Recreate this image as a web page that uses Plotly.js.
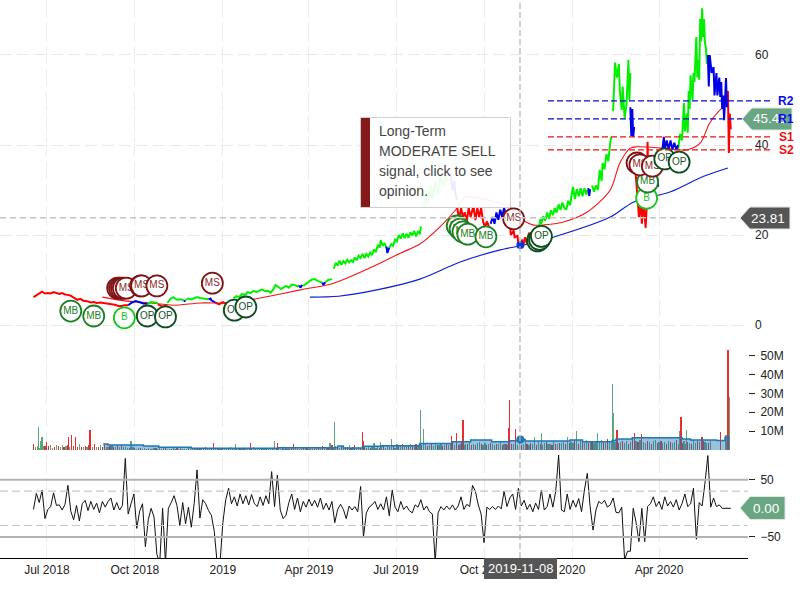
<!DOCTYPE html>
<html><head><meta charset="utf-8">
<script src="https://cdn.plot.ly/plotly-3.0.1.min.js"></script>
<style>html,body{margin:0;padding:0;background:#fff}#c{width:800px;height:600px}</style></head>
<body><div id="c"></div>
<script>
// All "days" are calendar days counted from the first bar of the chart.
const startDate = '2018-06-17';
const priceTicks = [0,20,40,60];
const volTicks = [10e6,20e6,30e6,40e6,50e6];
const volTickText = ['10M','20M','30M','40M','50M'];
const oscTicks = [-50,50];
const dateTicks = ['2018-07-01','2018-10-01','2019-01-01','2019-04-01','2019-07-01','2019-10-01','2020-01-01','2020-04-01'];
const dateTickText = ['Jul 2018','Oct 2018','2019','Apr 2019','Jul 2019','Oct 2019','2020','Apr 2020'];

const redDays = [0,3,6,9,12,15,18,21,24,27,30,33,36,39,42,46,49,52,56,60,63,66,70,74,77,81,85,88,91,95,99,null,
 130,135,140,null,190,194,198,202,205,208,null,
 443,445,447,449,451,453,455,457,460,462,464,466,468,470,472,474,476,null,
 498,499,502,503,506,507,509,511,512,514,516,518,520,523,526,null,
 628,631,633,635,636,638,640,641,642,643,645,648,650,null,726,727,728,729];
const redVals = [6.2,6.6,7.0,7.4,7.0,7.1,7.0,7.3,7.1,6.9,7.1,6.8,6.7,6.5,6.1,5.6,5.8,5.4,5.3,5.0,5.1,4.9,5.0,4.9,4.8,4.6,4.5,4.3,4.2,4.4,4.4,null,
 4.6,4.1,4.4,null,5.0,4.6,5.1,4.7,4.9,5.2,null,
 26,23.5,26,24,25,23,26,24,26.5,23.3,26,24,26,23,21.8,23,22,null,
 23,20,21,19.5,19.8,18,17.8,19,17.6,19.5,18,20.5,18.5,21,20,null,
 38,30,24,27,22.5,27,21.6,26,40.7,30,34,27,33,null,52,38.2,47,43.5];

const greenDays = [119,123,127,130,null,140,143,146,150,154,157,null,159,162,165,168,171,174,177,180,183,null,
 209,212,215,218,221,224,227,230,233,236,239,242,245,248,251,253,256,259,261,264,267,270,273,276,278,null,
 282,285,288,291,294,297,300,302,null,305,308,312,null,
 314,316,318,320,322,324,326,328,330,332,334,336,338,340,342,344,346,348,350,352,354,356,358,360,362,363,365,367,369,null,
 372,374,376,378,380,382,384,386,388,390,392,394,396,398,400,402,404,405,null,
 408,410,412,415,417,420,423,425,428,431,434,null,
 528,530,531,533,535,537,539,541,543,545,547,549,551,553,555,557,559,561,563,564,566,568,570,572,574,576,578,579,null,
 584,586,588,590,592,594,595,597,599,601,603,604,null,
 606,608,610,612,613,615,616,618,620,621,622,623,624,null,
 674,676,678,680,681,683,684,685,686,687,689,690,691,692,693,694,695,696,697,698,699,700,701,702,703,704];
const greenVals = [4.7,5.1,5.0,4.9,null,4.9,5.8,6.2,5.6,5.7,5.5,null,5.6,5.9,5.7,6.0,6.2,6.0,5.9,5.8,5.7,null,
 5.9,6.4,6.2,6.9,6.7,7.3,7.1,7.6,7.3,7.6,7.9,7.5,7.6,7.2,8.0,8.9,8.4,8.0,8.3,8.7,8.3,9.0,8.9,8.6,8.8,null,
 8.7,9.2,9.7,10.1,10.2,9.8,9.6,9.4,null,9.5,10.0,10.2,null,
 12.5,13.8,13.2,14.3,13.4,14.2,13.7,14.5,13.9,14.4,14.0,15.0,14.4,15.4,14.9,15.8,14.9,15.8,15.2,16.1,15.5,16.8,16.2,17.8,17.2,18.9,17.6,18.2,17.2,null,
 17.2,18.0,17.6,19.0,18.6,20.0,19.2,20.4,19.3,20.3,19.4,20.6,19.9,20.9,19.7,20.9,20.2,21.9,null,
 26,30,27,31,28,32,29,33,31,33,32,null,
 21,23.5,22.5,24.2,23.2,25,23.6,25.5,24.4,26,25,26.8,25.6,27.2,26,25.6,27.6,26.6,29.5,30.7,28,30.2,28.6,30.4,28.6,30.4,29,30,null,
 31,29.6,31,30,34.4,32,36,34.6,38,36.4,40.5,41.8,null,
 47.5,58.3,55,58,52,47.8,53,46,49,54,58.9,50,56,null,
 39,42.5,41,49.3,43,47,42.7,52,48,55.5,50,56,54,60,64,55,59,54.5,68,63,70.4,64,68,62.7,61.6,58];

const blueDays = [99,103,107,111,115,119,null,157,159,null,183,185,186,190,null,278,279,281,null,302,303,305,null,369,370,371,372,null,
 436,438,440,441,443,null,478,480,482,484,486,488,490,492,494,496,null,580,581,582,null,624,625,626,627,628,null,652,653,null,
 657,659,660,662,664,666,668,670,672,674,null,705,706,707,709,711,712,714,715,717,718,719,720,721,722,723,724,725];
const blueVals = [4.4,5.0,5.3,5.0,4.8,4.7,null,5.4,5.3,null,5.7,5.9,5.5,5.0,null,8.8,8.3,8.9,null,9.4,8.9,9.5,null,17.4,16,16.7,17.2,null,
 33.8,30,32,29,27.8,null,22.5,24,22.5,25,23.4,25.6,24,26,24.5,25,null,30.4,28.7,30.2,null,48.4,42,48,41.8,44,null,33,30.7,null,
 38,41.8,39,41,39,41,39,40.5,39,40,null,60,53,60,56,57.3,51,56,51,55,50.7,54,48,51,45.5,50,54.9,48.4];

const maFastDays = [72,98,122,146,175,208,237,279,314,352,384,404,425,443,451,478,498,514,523,554,579,603,613,624,631,658,683,697,707,720,726];
const maFastVals = [6.2,5.3,4.9,4.4,4.9,4.9,6.0,7.8,9.3,12.7,16,18,21.8,26,28.4,27.6,26.2,23,22.2,22.9,25.1,30,36,39.3,39.6,39.3,38.9,40.4,44.9,48.2,48.9];
const maSlowDays = [289,319,359,404,446,488,509,540,603,627,666,700,726];
const maSlowVals = [6.2,6.4,7.8,10.2,14,16.7,17.6,19.3,24,27.3,29.6,33,34.9];

const pivotLevels = [49.8,45.8,41.8,38.9];
const pivotNames = ['R2','R1','S1','S2'];
const lastClose = 45.41;
const cursorClose = 23.81;
const cursorDay = 509;
const cursorPrice = 17.8;
const cursorVolAvg = 5.6e6;

const signalDays = [39,63,95,119,138,210,222,88,90,92,94,97,112,113,129,187,443,446,449,454,473,502,527,529,531,641,642,631,634,647,660,675];
const signalVals = [3.1,2.0,1.6,2.0,1.8,3.3,4.0,8.2,8.2,8.2,8.2,8.2,8.7,8.7,8.7,9.3,22,21.3,20.7,20.2,19.6,23.6,18.7,19,19.7,28.2,31.8,36,35.6,35.3,36.9,36.2];
const signalText = ['MB','MB','B','OP','OP','OP','OP','MS','MS','MS','MS','MS','MS','MS','MS','MS','MB','MB','MB','MB','MB','MS','OP','OP','OP','B','MB','MS','MS','MS','OP','OP'];

// volume in millions, read every second day; negative means a down (red) day
const volBase = [
 -3,1.4,2,1.2,-2.6,2,-2,1.2,-2,2.6,1.2,-1.4,2.6,-2,1.4,2.4,-1.4,2,-2.6,1.4,
 2,-2,1.4,-1.6,3,-1.4,1.6,-2,1.4,-2.6,2,1.4,-3,1.4,-1.6,2.6,-1.4,-2.6,1.6,1.4,
 -2,2.6,-1.8,1.4,-2.4,1.6,-2.6,1.4,1.5,0.8,-1.2,0.7,1.5,-1,0.6,0.9,-1.2,0.5,0.8,-0.6,
 1.1,-0.7,0.6,0.9,-1,0.5,1.2,-0.6,0.8,-1.4,0.5,0.7,-0.6,1,0.5,-0.8,0.6,1.3,-0.5,0.7,
 0.5,-1,0.6,0.8,-0.6,0.5,1,-0.7,0.5,1.2,-1.5,0.6,0.8,-0.5,0.7,1,-0.6,0.5,0.9,-1.2,
 0.6,0.7,-0.5,1.4,-0.8,0.5,0.7,1.1,-0.6,0.8,-1.3,0.5,0.9,-0.7,0.6,1.5,-0.5,0.8,0.6,-1,
 0.7,1.2,-0.6,0.5,1.1,-0.8,0.7,-0.5,1.3,0.6,-0.9,0.7,1,-0.6,0.8,-1.2,0.6,1.5,-0.7,0.5,
 1,-0.8,0.9,-1.4,0.7,1.1,-0.6,0.8,1.6,-1,1.4,-2.2,1.2,1.8,-1,1.5,-2.5,1.2,1.9,-1.1,
 1.3,-2,1.1,1.7,-1.4,2.4,-1.2,1.4,-2.8,1.3,1.6,-1.2,2,-1.5,1.1,2.2,-1.3,1.6,-2.4,1.2,
 1.8,-1.2,1.4,-2.6,1.1,2,-1.4,1.7,-2.2,1.3,3.4,-2.2,2.5,-3.4,2,2.8,-2.3,3.1,-2.1,2.6,
 -3.3,2.2,3,-2.4,2.7,3.2,-2.2,2.4,-3.6,2.1,3,-2.6,2.4,3.8,-2.3,2.9,-3.4,2.4,3.3,-4,
 2.5,3.6,-2.7,3,-4.6,2.8,3.4,-3,4,-2.6,3.2,-2.8,3.6,4.2,-3,2.8,3.5,-2.6,3,-3.8,
 3.2,2.5,-3.4,3,4,-2.8,3.3,-3.1,2.7,4.4,-3,3.2,-4.2,2.9,3.5,-2.6,3.1,4.2,-3.3,2.8,
 -3.6,3,3.4,-2.7,4.4,-3.2,2.9,3.6,-4.4,3,3.2,-2.8,4.6,-3.4,3.1,-3.8,3.5,4.2,-3,5,
 -3.8,4.4,3.6,-5.2,4,-3.4,4.8,-4.2,3.7,5.4,-3.6,4.2,-5,3.8,4.6,-3.4,4.2,5.2,-4.4,3.6,
 -5.6,4.4,3.8,-4.6,4.1,5.6,-3.6,4.3,-5,3.9,4.8,-3.4,4.4,-5.6,3.8,4.6,-4,5.2,-3.6,4.4,
 3.8,-5,4.2,-3.4,4.6,5.2,-3.8,4.2,-4.8,3.6,4.4,-3.2,5,-4.2,3.7,4.4,-5.4,3.4,4.2,-3.6,
 4.8,3.4,-4.4,3.9,-3.2,5.2,3.6,-4.6,4,3.3,-5,4.4,3.5,-3.8,4.6
];
const volSpikeDays = [5,7,9,14,37,40,44,59,102,188,211,227,252,255,272,310,315,344,345,356,363,374,405,408,437,442,449,497,498,504,524,531,558,568,590,605,606,610,628,636,675,677,683,699,718,724,726,728];
const volSpikeVals = [12,5,7,4,7,8,7,10.5,5,3.5,3,3.5,5,3.5,3,3.5,15,9.5,4.5,3.5,4,6,21,11,7.5,9,16,11.5,26.5,11,7,9,7,10,9,35,19.5,10.5,9,8.5,10,17.5,10.5,7,9.5,8,53,28];
const volSpikeSide = 'ggg'+'rrrrr'+'g'+'r'+'g'+'r'+'g'+'r'+'r'+'g'+'g'+'rr'+'ggg'+'gg'+'rrr'+'rrr'+'gg'+'ggg'+'gg'+'r'+'rr'+'g'+'r'+'g'+'rr'+'g'+'r'+'g';

const volAvgDays = [73,78,115,131,165,256,318,324,344,364,403,404,438,457,479,498,506,514,561,574,605,609,626,678,687,714,723,728];
const volAvgVals = [3.2,2.6,2.1,1.5,0.9,1.2,2.1,1,2,2.2,2.5,3.5,4.4,5.3,4.4,4.9,5.6,4.8,5.3,4.4,5,5.8,6.5,5.8,5.3,5,6.7,6.7];

// oscillator, read every third day
const oscVals = [
 -2,26,10,32,-18,-2,3,27,5,6,
 -3,7,40,-5,-20,5,-22,8,14,-4,
 12,-2,9,-8,12,2,12,18,-3,10,
 -3,5,87,-10,8,25,-35,-5,8,-67,
 -20,0,-15,-80,-95,0,-95,0,10,22,
 5,-30,10,-27,2,-33,8,67,-17,15,
 8,-4,-12,-40,-95,-95,-25,15,35,8,
 20,4,25,8,22,6,24,8,3,20,
 5,22,8,64,3,58,-3,-18,-12,10,
 25,-2,18,-6,12,2,16,4,14,2,
 18,-2,9,-3,12,-25,-2,7,-2,-18,
 4,-3,3,-6,38,-50,-8,2,6,12,
 -2,8,-3,20,-13,32,2,-6,12,-2,
 4,-4,-8,6,2,15,-3,4,-6,-10,
 -95,-8,3,-3,4,-2,6,-3,4,20,
 -2,7,3,40,30,6,-10,-60,2,-2,
 3,-2,4,-1,30,3,18,25,-2,35,
 4,14,-2,7,-6,9,-2,32,-3,3,
 25,2,30,93,-3,-6,25,-2,14,2,
 17,-6,32,61,2,-38,-3,12,8,14,
 2,6,18,-7,-8,2,-90,-75,-75,0,
 -25,-58,0,-58,3,8,20,3,12,-2,
 20,4,12,2,15,-3,8,25,3,8,
 35,-54,10,4,44,92,2,18,3,6,
 0,0,0,0];

const FONT = '"Liberation Sans", Arial, sans-serif';
const W = 800, H = 600, plotR = 748, plotB = 558;
const t0 = Date.parse(startDate + 'T00:00:00Z');
const D = d => d === null ? null : new Date(t0 + d * 864e5).toISOString().slice(0, 10);
const px = x => x / plotR;                 // paper x from window pixels (for furniture only)
const py = y => (plotB - y) / plotB;       // paper y from window pixels

const traces = [];
const line = (days, vals, color, width, shape) => traces.push({type:'scatter',mode:'lines',x:days.map(D),y:vals,yaxis:'y',
  connectgaps:false,line:{color,width,shape:shape||'linear',smoothing:0.8},hoverinfo:'skip',showlegend:false});

line(maSlowDays, maSlowVals, '#0a1fd0', 1.1, 'spline');
line(maFastDays, maFastVals, '#f01414', 1.1, 'spline');
line(redDays, redVals, '#ff0000', 2);
line(greenDays, greenVals, '#00f000', 2);
line(blueDays, blueVals, '#0000e6', 2);

traces.push({type:'scatter',mode:'markers',x:[D(cursorDay)],y:[cursorPrice],yaxis:'y',marker:{size:8,color:'#1430d8'},hoverinfo:'skip',showlegend:false});

const sigStyle = {
 MB:{line:'#1c7f24',text:'#1c7f24'}, B:{line:'#19c61f',text:'#19c61f'},
 OP:{line:'#0d4d1f',text:'#14532a'}, MS:{line:'#7f1416',text:'#8a2a2c'}
};
signalDays.forEach((d,i)=>{
  const s = sigStyle[signalText[i]];
  traces.push({type:'scatter',mode:'markers+text',x:[D(d)],y:[signalVals[i]],yaxis:'y',text:[signalText[i]],textposition:'middle center',
    textfont:{family:FONT,size:10,color:s.text},marker:{size:21,color:'#fff',line:{color:s.line,width:1.8}},hoverinfo:'skip',showlegend:false});
});

// volume
const vd=[],vv=[],vc=[];
const RED='#e62e2e',GRN='#5fa57d';
volBase.forEach((v,i)=>{vd.push(D(i*2));vv.push(Math.abs(v)*1e6);vc.push(v<0?RED:GRN);});
volSpikeDays.forEach((d,i)=>{vd.push(D(d));vv.push(volSpikeVals[i]*1e6);vc.push(volSpikeSide[i]==='r'?RED:GRN);});
traces.push({type:'bar',x:vd,y:vv,yaxis:'y2',width:1.25*864e5,marker:{color:vc,line:{width:0}},hoverinfo:'skip',showlegend:false});
traces.push({type:'scatter',mode:'lines',x:volAvgDays.map(D),y:volAvgVals.map(v=>v*1e6),yaxis:'y2',fill:'tozeroy',fillcolor:'rgba(31,119,180,0.45)',
  line:{color:'#1f77b4',width:1.5,shape:'hv'},hoverinfo:'skip',showlegend:false});
traces.push({type:'scatter',mode:'markers',x:[D(cursorDay)],y:[cursorVolAvg],yaxis:'y2',marker:{size:8,color:'#1f77b4'},hoverinfo:'skip',showlegend:false});

// oscillator
traces.push({type:'scatter',mode:'lines',x:oscVals.map((_,i)=>D(i*3)),y:oscVals,yaxis:'y3',line:{color:'#111',width:1},hoverinfo:'skip',showlegend:false});

// furniture
const shapes = [];
const annos = [];
const hline = (y,yref,color,width,dash,x0,x1,layer)=>shapes.push({type:'line',xref:'paper',yref,x0:x0===undefined?0:x0,x1:x1===undefined?1:x1,y0:y,y1:y,line:{color,width,dash:dash||'solid'},layer:layer||'above'});

hline(50,'y3','#b3b3b3',2); hline(-50,'y3','#b3b3b3',2);
hline(30,'y3','#c8c8c8',1.2,'8px,4px'); hline(-30,'y3','#c8c8c8',1.2,'8px,4px');
hline(cursorClose,'y','#c4c4c4',1.5,'6px,4px',0,px(742));
shapes.push({type:'line',xref:'paper',yref:'paper',x0:px(520),x1:px(520),y0:0,y1:1,line:{color:'#b4b4b4',width:1.2,dash:'6px,3px'},layer:'above'});

pivotLevels.forEach((lv,i)=>{
  const c = i<2?'#0a0ad0':'#f01010';
  hline(lv,'y',c,1.3,'6px,3px',px(548),px(770));
});

// price flags
const flag=(yc,tip,bodyL,bodyR,h,fill)=>{
  const P=(x,y)=>px(x).toFixed(4)+','+py(y).toFixed(4);
  shapes.push({type:'path',xref:'paper',yref:'paper',layer:'above',fillcolor:fill,line:{color:'#dfe9e3',width:1},
   path:'M'+P(tip,yc)+' L'+P(bodyL,yc-h)+' L'+P(bodyR,yc-h)+' L'+P(bodyR,yc+h)+' L'+P(bodyL,yc+h)+' Z'});
};
flag(218,740,750,790,11,'#555555');
flag(119,742,752,792,11,'#6aa681');
flag(508,740,750,785,11.5,'#6aa681');
annos.push({xref:'paper',yref:'paper',x:px(768),y:py(218),text:'23.81',showarrow:false,font:{family:FONT,size:13.5,color:'#fff'},xanchor:'center',yanchor:'middle'});
annos.push({xref:'paper',yref:'paper',x:px(770),y:py(119),text:'45.41',showarrow:false,font:{family:FONT,size:13.5,color:'#fff'},xanchor:'center',yanchor:'middle'});
annos.push({xref:'paper',yref:'paper',x:px(766),y:py(508),text:'0.00',showarrow:false,font:{family:FONT,size:13.5,color:'#fff'},xanchor:'center',yanchor:'middle'});
pivotLevels.forEach((lv,i)=>{
  annos.push({xref:'paper',yref:'y',x:px(786),y:lv,text:pivotNames[i],showarrow:false,xanchor:'center',yanchor:'middle',
    font:{family:FONT,size:12,color:i<2?'#0a0af0':'#f01010',weight:'bold'}});
});

// cursor date box
shapes.push({type:'rect',xref:'paper',yref:'paper',x0:px(484),x1:px(557),y0:py(579),y1:py(558),fillcolor:'#555555',line:{width:0},layer:'above'});
annos.push({xref:'paper',yref:'paper',x:px(520.5),y:py(568.5),text:'2019-11-08',showarrow:false,xanchor:'center',yanchor:'middle',
  font:{family:FONT,size:13,color:'#fff'}});

// opinion card
shapes.push({type:'rect',xref:'paper',yref:'paper',x0:px(360.5),x1:px(510.5),y0:py(207.5),y1:py(117.5),fillcolor:'rgba(255,255,255,0.92)',line:{color:'#cfcfcf',width:1},layer:'above'});
shapes.push({type:'rect',xref:'paper',yref:'paper',x0:px(361),x1:px(370),y0:py(207),y1:py(118),fillcolor:'#861a1a',line:{width:0},layer:'above'});
['Long-Term','MODERATE SELL','signal, click to see','opinion.'].forEach((t,i)=>{
  annos.push({xref:'paper',yref:'paper',x:px(377),y:py(131+i*20),text:t,showarrow:false,xanchor:'left',yanchor:'middle',
    font:{family:FONT,size:14,color:'#444'}});
});

const gridDash='18px,5px', gridCol='#ececec';
const layout = {
  width:W,height:H,margin:{l:0,r:W-plotR,t:0,b:H-plotB},paper_bgcolor:'#fff',plot_bgcolor:'#fff',
  showlegend:false,hovermode:false,bargap:0,barmode:'overlay',
  font:{family:FONT,size:12,color:'#222'},
  xaxis:{type:'date',anchor:'y3',range:['2018-05-13','2020-07-03'],tickvals:dateTicks,ticktext:dateTickText,ticks:'',showgrid:true,
    gridcolor:gridCol,griddash:gridDash,gridwidth:1,showline:true,linecolor:'#000',linewidth:1.2,zeroline:false,tickangle:0,tickfont:{size:12,color:'#222'}},
  yaxis:{domain:[(plotB-340)/plotB,1],range:[-3.33,72.22],side:'right',tickvals:priceTicks,ticks:'',ticklen:0,showgrid:true,gridcolor:'#e8e8e8',griddash:'12px,5px',zeroline:false,showline:false,
    tickfont:{size:12,color:'#222'},ticklabelstandoff:6},
  yaxis2:{domain:[(plotB-450)/plotB,(plotB-340)/plotB],range:[0,58.2e6],side:'right',tickvals:volTicks,ticktext:volTickText,ticks:'outside',ticklen:6,tickcolor:'#222',showgrid:false,zeroline:false,showline:false,
    tickfont:{size:12,color:'#222'},ticklabelstandoff:3},
  yaxis3:{domain:[0,(plotB-455)/plotB],range:[-86.7,93],side:'right',tickvals:oscTicks,ticks:'outside',ticklen:6,tickcolor:'#222',showgrid:false,zeroline:false,showline:false,
    tickfont:{size:12,color:'#222'},ticklabelstandoff:3},
  shapes,annotations:annos
};
Plotly.newPlot('c',traces,layout,{displayModeBar:false,staticPlot:true});
</script></body></html>
